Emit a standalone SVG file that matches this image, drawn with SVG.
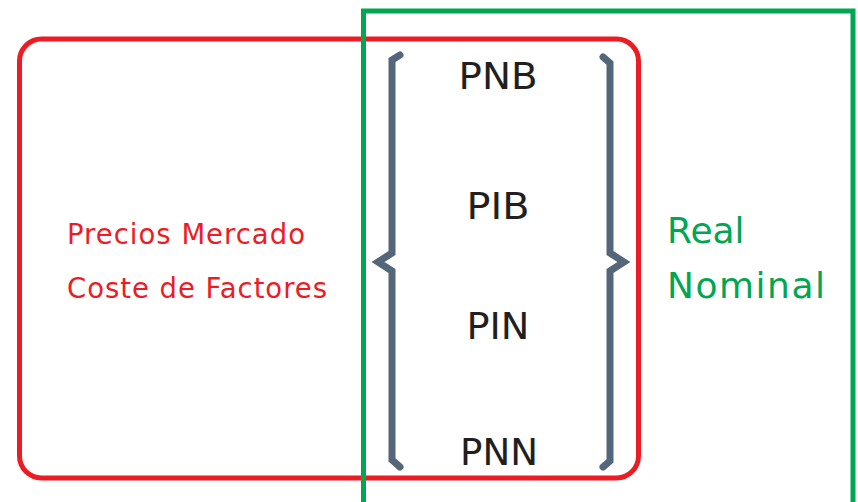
<svg xmlns="http://www.w3.org/2000/svg" width="858" height="502" viewBox="0 0 858 502">
<style>
.t{font-family:"DejaVu Sans","Verdana",sans-serif}
.k{font-size:37px;fill:#231f20;text-anchor:middle}
.r{font-size:27.5px;fill:#ed1c24}
.g{font-size:36px;fill:#00a651}
.brace{fill:none;stroke:#54667a;stroke-width:7;stroke-linecap:round;stroke-linejoin:miter}
</style>
<rect width="858" height="502" fill="#ffffff"/>
<g id="red-box"><rect x="19.5" y="39" width="619" height="439" rx="22" fill="none" stroke="#ed1c24" stroke-width="5"/></g>
<g id="green-box"><path d="M363.5 510 V11 H853 V510" fill="none" stroke="#00a651" stroke-width="5"/></g>
<g id="connectors">
<path class="brace" d="M400 55 L392 60 V253 L378 262 L392 271 V460 L400 467"/>
<path class="brace" d="M603 57 L610 63 V253 L624 262 L610 271 V461 L603 467"/>
</g>
<g id="pnb"><text class="t k" x="498" y="89" textLength="79" lengthAdjust="spacingAndGlyphs">PNB</text></g>
<g id="pib"><text class="t k" x="498" y="219" textLength="63" lengthAdjust="spacingAndGlyphs">PIB</text></g>
<g id="pin"><text class="t k" x="498" y="339" textLength="63" lengthAdjust="spacingAndGlyphs">PIN</text></g>
<g id="pnn"><text class="t k" x="499" y="465" textLength="78" lengthAdjust="spacingAndGlyphs">PNN</text></g>
<g id="precios"><text class="t r" x="67" y="244" textLength="238" lengthAdjust="spacing">Precios Mercado</text><text class="t r" x="67" y="298" textLength="260" lengthAdjust="spacing">Coste de Factores</text></g>
<g id="real"><text class="t g" x="667" y="243">Real</text><text class="t g" x="667" y="298" textLength="158" lengthAdjust="spacing">Nominal</text></g>
</svg>
